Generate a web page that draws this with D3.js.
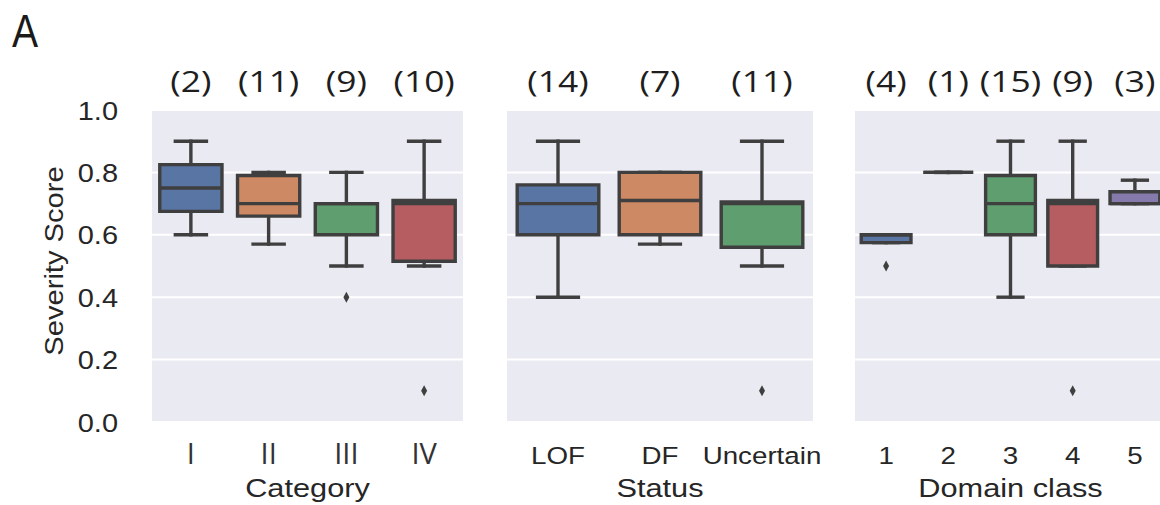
<!DOCTYPE html>
<html>
<head>
<meta charset="utf-8">
<script src="https://cdn.jsdelivr.net/npm/d3@7"></script>
<style>
  html, body { margin: 0; padding: 0; background: #fff; }
  svg { display: block; }
</style>
</head>
<body>
<svg id="chart" width="1160" height="505"></svg>
<script>
// ---- data -------------------------------------------------------------
const yTicks = [0, 0.2, 0.4, 0.6, 0.8, 1.0];

// box statistics per group: [lower whisker, Q1, median, Q3, upper whisker]
const categoryGroups = ["I", "II", "III", "IV"];
const categoryCounts = [2, 11, 9, 10];
const categoryStats = [
  [0.60, 0.675, 0.75, 0.825, 0.90],
  [0.57, 0.66, 0.70, 0.79, 0.80],
  [0.50, 0.60, 0.70, 0.70, 0.80],
  [0.50, 0.515, 0.70, 0.71, 0.90]
];
const categoryOutliers = [[], [], [0.4], [0.1]];

const statusGroups = ["LOF", "DF", "Uncertain"];
const statusCounts = [14, 7, 11];
const statusStats = [
  [0.40, 0.60, 0.70, 0.76, 0.90],
  [0.57, 0.60, 0.71, 0.80, 0.80],
  [0.50, 0.56, 0.70, 0.705, 0.90]
];
const statusOutliers = [[], [], [0.1]];

const domainGroups = ["1", "2", "3", "4", "5"];
const domainCounts = [4, 1, 15, 9, 3];
const domainStats = [
  [0.575, 0.575, 0.60, 0.60, 0.60],
  [0.80, 0.80, 0.80, 0.80, 0.80],
  [0.40, 0.60, 0.70, 0.79, 0.90],
  [0.50, 0.50, 0.70, 0.71, 0.90],
  [0.70, 0.70, 0.70, 0.738, 0.775]
];
const domainOutliers = [[0.5], [], [], [0.1], []];

const palette = ["#5875a4", "#cc8963", "#5f9e6e", "#b55d60", "#857aab"];

// ---- layout -----------------------------------------------------------
const svg = d3.select("#chart");
const plotTop = 110, plotBottom = 422;
const y = d3.scaleLinear().domain([0, 1]).range([plotBottom, plotTop]);

const SX = 1.16;            // horizontal widening of the sans-serif labels
const lineCol = "#3f3f3f";
const lineW = 3.4;
const armFont = "'Liberation Sans', Arial, sans-serif";
const humFont = "'Open Sans', 'Noto Sans', sans-serif";

const panels = [
  { groups: categoryGroups, counts: categoryCounts, stats: categoryStats, outliers: categoryOutliers,
    x0: 152, x1: 463, title: "Category", tickFont: humFont, tickSize: 29, tickSX: 1, tickCol: "#333" },
  { groups: statusGroups, counts: statusCounts, stats: statusStats, outliers: statusOutliers,
    x0: 507, x1: 813, title: "Status", tickFont: armFont, tickSize: 23.5, tickSX: 1.18, tickCol: "#262626" },
  { groups: domainGroups, counts: domainCounts, stats: domainStats, outliers: domainOutliers,
    x0: 855, x1: 1166, title: "Domain class", tickFont: armFont, tickSize: 23.5, tickSX: 1.18, tickCol: "#262626" }
];

// panel letter
svg.append("text")
  .attr("transform", `translate(12,47) scale(0.85,1)`)
  .attr("font-family", armFont)
  .attr("font-size", 46)
  .attr("fill", "#1a1a1a")
  .text("A");

panels.forEach((p, pi) => {
  const x = d3.scaleBand().domain(p.groups).range([p.x0, p.x1]).paddingInner(0).paddingOuter(0);
  const bw = x.bandwidth() * 0.8;
  const g = svg.append("g");

  // background
  g.append("rect")
    .attr("x", p.x0).attr("y", plotTop)
    .attr("width", p.x1 - p.x0).attr("height", plotBottom - plotTop)
    .attr("fill", "#eaeaf2");

  // horizontal grid
  g.selectAll("line.grid").data(yTicks).join("line")
    .attr("class", "grid")
    .attr("x1", p.x0).attr("x2", p.x1)
    .attr("y1", d => y(d)).attr("y2", d => y(d))
    .attr("stroke", "#fff").attr("stroke-width", 2);

  // boxes
  p.groups.forEach((grp, i) => {
    const [lo, q1, med, q3, hi] = p.stats[i];
    const cx = x(grp) + x.bandwidth() / 2;
    const bx0 = cx - bw / 2, bx1 = cx + bw / 2;
    const bg = g.append("g");

    // whiskers and caps
    bg.append("line")
      .attr("x1", cx).attr("x2", cx).attr("y1", y(q3)).attr("y2", y(hi))
      .attr("stroke", lineCol).attr("stroke-width", lineW).attr("stroke-linecap", "square");
    bg.append("line")
      .attr("x1", cx).attr("x2", cx).attr("y1", y(q1)).attr("y2", y(lo))
      .attr("stroke", lineCol).attr("stroke-width", lineW).attr("stroke-linecap", "square");
    [lo, hi].forEach(v => {
      bg.append("line")
        .attr("x1", cx - bw / 4).attr("x2", cx + bw / 4)
        .attr("y1", y(v)).attr("y2", y(v))
        .attr("stroke", lineCol).attr("stroke-width", lineW).attr("stroke-linecap", "square");
    });

    // box body
    bg.append("path")
      .attr("d", `M${bx0},${y(q3)}H${bx1}V${y(q1)}H${bx0}Z`)
      .attr("fill", palette[i])
      .attr("stroke", lineCol).attr("stroke-width", lineW)
      .attr("stroke-linejoin", "miter");

    // median
    bg.append("line")
      .attr("x1", bx0).attr("x2", bx1)
      .attr("y1", y(med)).attr("y2", y(med))
      .attr("stroke", lineCol).attr("stroke-width", lineW);

    // outliers (thin diamonds)
    bg.selectAll("path.flier").data(p.outliers[i]).join("path")
      .attr("class", "flier")
      .attr("d", d => `M${cx},${y(d) - 5.5}L${cx + 3},${y(d)}L${cx},${y(d) + 5.5}L${cx - 3},${y(d)}Z`)
      .attr("fill", lineCol);

    // sample size above the panel
    g.append("text")
      .attr("transform", `translate(${cx},92) scale(1.22,1)`)
      .attr("text-anchor", "middle")
      .attr("font-family", humFont)
      .attr("font-size", 29)
      .attr("fill", "#1e1e1e")
      .text(`(${p.counts[i]})`);
  });

  // x axis
  const xa = g.append("g")
    .attr("transform", `translate(0,464)`)
    .call(d3.axisBottom(x).tickSize(0).tickPadding(0));
  xa.select(".domain").remove();
  xa.selectAll("text")
    .attr("y", 0).attr("dy", null)
    .attr("transform", `scale(${p.tickSX},1)`)
    .attr("font-family", p.tickFont)
    .attr("font-size", p.tickSize)
    .attr("fill", p.tickCol);

  // axis title
  g.append("text")
    .attr("transform", `translate(${(p.x0 + p.x1) / 2},497) scale(${SX},1)`)
    .attr("text-anchor", "middle")
    .attr("font-family", armFont)
    .attr("font-size", 26.5)
    .attr("fill", "#262626")
    .text(p.title);

  // y axis on the first panel only
  if (pi === 0) {
    const ya = g.append("g")
      .attr("transform", `translate(${p.x0},0)`)
      .call(d3.axisLeft(y).tickValues(yTicks).tickFormat(d3.format(".1f")).tickSize(0).tickPadding(0));
    ya.select(".domain").remove();
    ya.selectAll("text")
      .attr("x", (118 - p.x0) / SX)
      .attr("dy", "0.36em")
      .attr("transform", `scale(${SX},1)`)
      .attr("font-family", armFont)
      .attr("font-size", 25)
      .attr("fill", "#262626");

    g.append("text")
      .attr("transform", `translate(63,261) rotate(-90) scale(1.1,1)`)
      .attr("text-anchor", "middle")
      .attr("font-family", armFont)
      .attr("font-size", 26.5)
      .attr("fill", "#262626")
      .text("Severity Score");
  }
});
</script>
</body>
</html>
